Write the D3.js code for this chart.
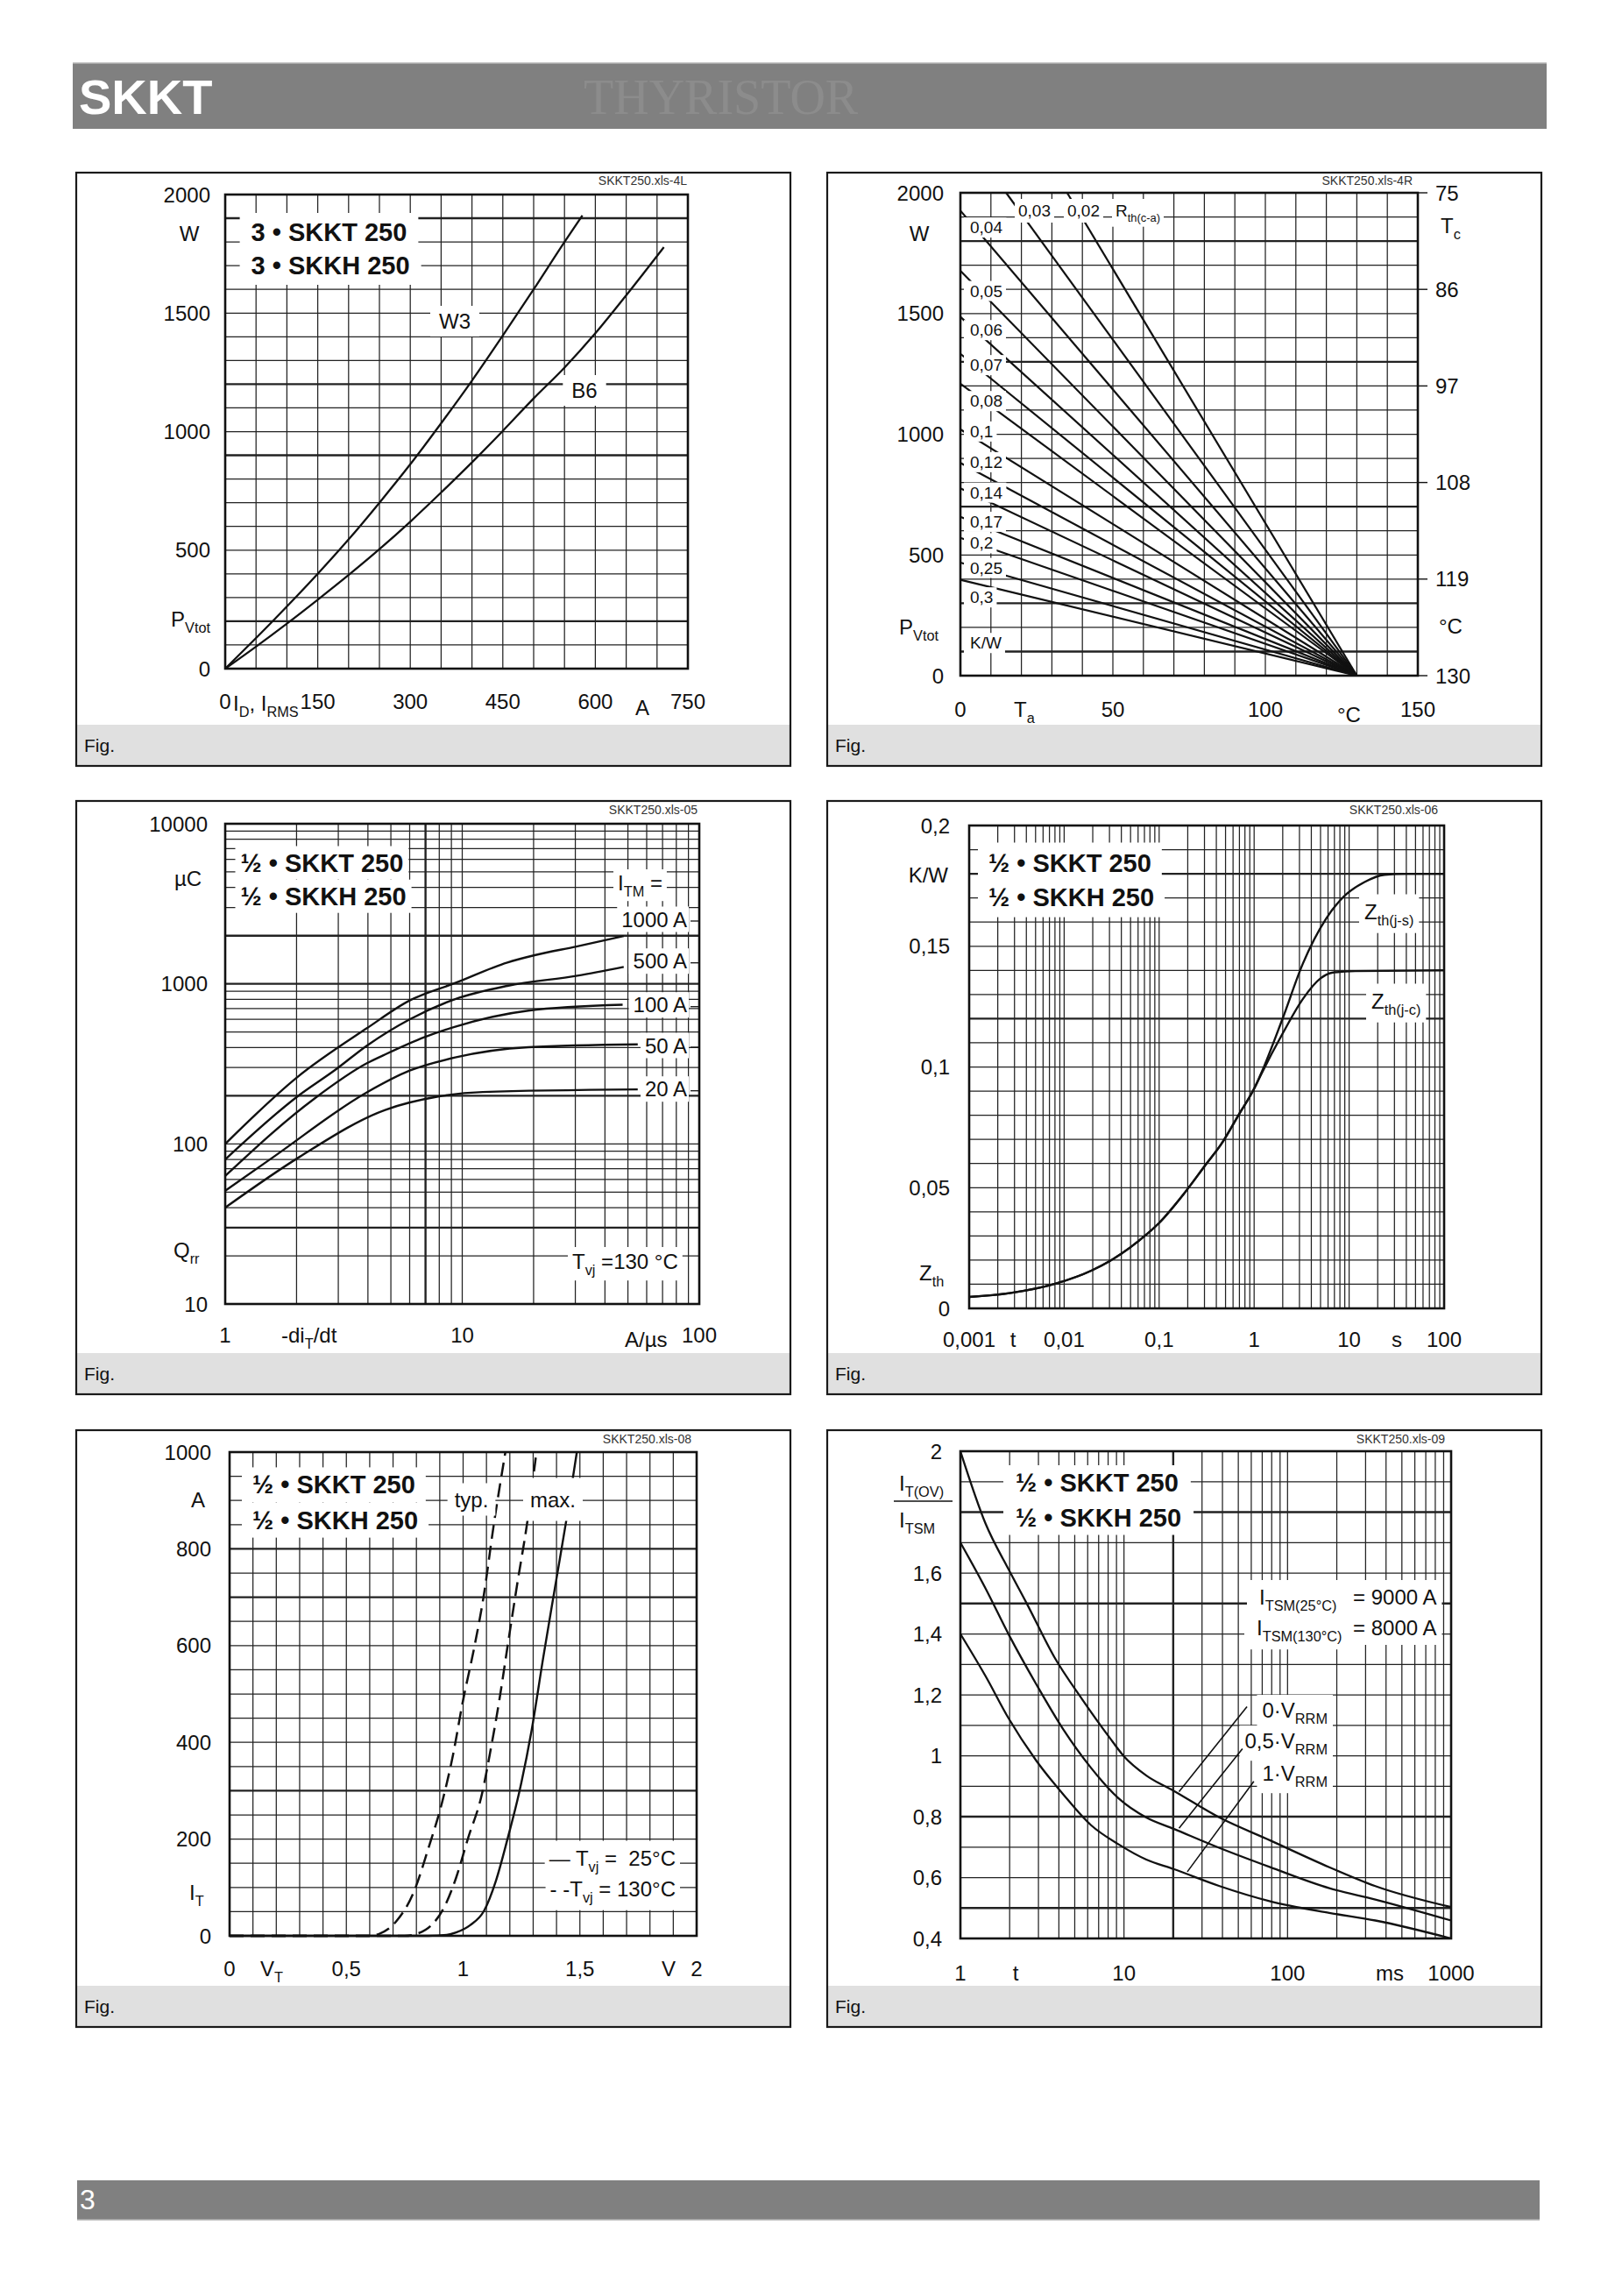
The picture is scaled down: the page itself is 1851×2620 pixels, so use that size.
<!DOCTYPE html>
<html><head><meta charset="utf-8">
<script src="https://cdn.jsdelivr.net/npm/d3@7"></script>
<style>
body{margin:0;background:#fff;}
svg text{font-family:"Liberation Sans",Arial,Helvetica,sans-serif;}
</style></head><body>
<script>
// ================= DATA =================
// Panel 1 : P_Vtot vs I_D, I_RMS
const p1XTicks = [0,150,300,450,600,750];
const p1YTicks = [0,500,1000,1500,2000];
const p1W3 = [[0,0],[75,195],[150,400],[200,545],[250,700],[300,862],[350,1035],[400,1215],[450,1405],[500,1600],[550,1800],[579,1912]];
const p1B6 = [[0,0],[50,93],[100,190],[150,291],[200,395],[250,504],[300,620],[350,743],[400,870],[450,1003],[500,1140],[550,1270],[600,1415],[650,1575],[711,1778]];

// Panel 2 : P_Vtot vs T_a, lines for R_th(c-a)
const p2XTicks = [0,50,100,150];
const p2YTicks = [0,500,1000,1500,2000];
const p2TcTicks = [75,86,97,108,119,130];
const p2Rth = ["0,02","0,03","0,04","0,05","0,06","0,07","0,08","0,1","0,12","0,14","0,17","0,2","0,25","0,3"];
const p2StartTa = [35,15,0,0,0,0,0,0,0,0,0,0,0,0];
const p2StartP = [2000,2000,1926,1677,1486,1333,1209,1020,881,776,658,571,468,397];
const p2End = [130,0];

// Panel 3 : Q_rr vs -di/dt
const p3XTicks = [1,10,100];
const p3YTicks = [10,100,1000,10000];
const p3Names = ["1000 A","500 A","100 A","50 A","20 A"];
const p3I1000 = [[1,100],[2,259],[3.96,528],[6,787],[9.34,1012],[15.5,1360],[20.2,1510],[30.6,1714],[48,1990]];
const p3I500 = [[1,80],[2,196],[2.94,293],[3.96,411],[6,600],[9.34,803],[15.5,971],[30.6,1125],[48,1276]];
const p3I100 = [[1,63],[2.39,193],[3.96,319],[4.73,362],[6.95,465],[9.34,540],[19,680],[47.5,740]];
const p3I50 = [[1,51],[1.6,83],[3.96,210],[6,287],[9.34,347],[19,402],[55,419]];
const p3I20 = [[1,40],[2.06,83],[4.73,163],[7.82,197],[12.2,211],[55,219]];

// Panel 4 : Z_th vs t
const p4XTicks = [0.001,0.01,0.1,1,10,100];
const p4YTicks = [0,0.05,0.1,0.15,0.2];
const p4Common = [[0.001,0.0047],[0.00266,0.0063],[0.00806,0.0102],[0.0195,0.0157],[0.0305,0.0197],[0.074,0.0307],[0.1,0.0354],[0.18,0.0472],[0.313,0.0598],[0.45,0.068],[0.684,0.080],[1.0,0.091]];
const p4JS = [[1.205,0.098],[1.98,0.1197],[3.25,0.1427],[5.72,0.1614],[8.74,0.1705],[14.4,0.1765],[23.6,0.1796],[40,0.18],[100,0.18]];
const p4JC = [[1.205,0.0975],[1.98,0.1136],[3.25,0.1281],[4.97,0.1366],[6.59,0.139],[11.6,0.1397],[100,0.14]];

// Panel 5 : I_T vs V_T
const p5XTicks = [0,0.5,1,1.5,2];
const p5YTicks = [0,200,400,600,800,1000];
const p5Typ130 = [[0,0],[0.6,0],[0.64,4],[0.712,29],[0.79,92],[0.85,179],[0.909,274],[0.958,377],[0.997,480],[1.048,597],[1.087,699],[1.131,849],[1.181,1000]];
const p5Max130 = [[0,0],[0.75,0],[0.80,4],[0.86,20],[0.92,60],[0.97,120],[1.02,200],[1.081,294],[1.118,385],[1.156,490],[1.193,607],[1.231,725],[1.275,856],[1.314,1000]];
const p5Max25 = [[0,0],[0.85,0],[0.93,2],[0.97,7],[1.03,22],[1.09,52],[1.14,113],[1.19,200],[1.24,296],[1.293,424],[1.343,575],[1.393,719],[1.443,862],[1.487,1000]];

// Panel 6 : I_T(OV)/I_TSM vs t
const p6XTicks = [1,10,100,1000];
const p6YTicks = [0.4,0.6,0.8,1,1.2,1.4,1.6,2];
const p6V0 = [[1,2.0],[1.426,1.762],[1.97,1.612],[2.55,1.499],[3.76,1.323],[5.54,1.186],[8.15,1.060],[10,0.998],[13.7,0.935],[20.1,0.885],[38.4,0.797],[78.3,0.722],[180,0.634],[344,0.572],[1000,0.503]];
const p6V05 = [[1,1.7],[1.426,1.549],[1.97,1.399],[2.9,1.236],[4.27,1.085],[6.29,0.960],[9.27,0.860],[13.7,0.797],[20.1,0.760],[38.4,0.697],[78.3,0.634],[180,0.565],[344,0.528],[1000,0.459]];
const p6V1 = [[1,1.4],[1.426,1.261],[1.97,1.123],[2.9,0.985],[4.27,0.872],[6.29,0.772],[9.27,0.709],[13.7,0.659],[20.1,0.628],[38.4,0.572],[78.3,0.522],[180,0.484],[344,0.459],[1000,0.40]];
const p6Leaders = [[[56.5,1.161],[21.7,0.882]],[[53,1.023],[21.7,0.762]],[[62.2,0.916],[24.4,0.619]]];

// ================= DRAWING =================
const INK = "#111";
const svg = d3.select("body").append("svg").attr("width",1851).attr("height",2620);
svg.append("rect").attr("width",1851).attr("height",2620).attr("fill","#fff");
const fmt = d => String(d).replace(".", ",");

// header
svg.append("rect").attr("x",83).attr("y",72).attr("width",1682).attr("height",75).attr("fill","#808080");
svg.append("line").attr("x1",83).attr("x2",1765).attr("y1",72).attr("y2",72).attr("stroke","#b5b5b5").attr("stroke-width",1.5);
svg.append("text").attr("x",90).attr("y",130).attr("fill","#fff").attr("font-size",56).attr("font-weight","bold").text("SKKT");
svg.append("text").attr("x",666).attr("y",130).attr("fill","#8c8c8c").attr("font-size",56)
  .style("font-family",'"Liberation Serif","Times New Roman",serif').text("THYRISTOR");
// footer
svg.append("rect").attr("x",88).attr("y",2488).attr("width",1669).attr("height",45).attr("fill","#808080");
svg.append("line").attr("x1",88).attr("x2",1757).attr("y1",2533).attr("y2",2533).attr("stroke","#b0b0b0").attr("stroke-width",1.5);
svg.append("text").attr("x",91).attr("y",2521).attr("fill","#fff").attr("font-size",32).text("3");

function rich(g, x, y, parts, o = {}) {
  const fs = o.size || 24;
  const t = g.append("text").attr("x", x).attr("y", y).attr("font-size", fs)
    .attr("text-anchor", o.anchor || "start").attr("fill", o.fill || INK);
  if (o.bold) t.attr("font-weight", "bold");
  let shift = 0;
  (Array.isArray(parts) ? parts : [parts]).forEach(p => {
    const sub = typeof p === "object";
    const s = sub ? p.s : p;
    const ts = t.append("tspan").text(s);
    const want = sub ? fs * 0.3 : 0;
    if (want !== shift) { ts.attr("dy", want - shift); shift = want; }
    if (sub) ts.attr("font-size", fs * 0.68);
  });
  return t;
}

function makePanel(px, py, h, code, codeRight, codeY) {
  const g = svg.append("g");
  const L = {
    grid: g.append("g"), curves: g.append("g"), boxes: g.append("g"),
    text: g.append("g"), over: g.append("g"), frame: g.append("g")
  };
  g.insert("rect", ":first-child").attr("x",px).attr("y",py+h-47).attr("width",815).attr("height",47).attr("fill","#e0e0e0");
  L.frame.append("rect").attr("x",px).attr("y",py).attr("width",815).attr("height",h)
    .attr("fill","none").attr("stroke","#1a1a1a").attr("stroke-width",2.2);
  L.text.append("text").attr("x",px+9).attr("y",py+h-16).attr("font-size",21).attr("fill",INK).text("Fig.");
  L.text.append("text").attr("x",codeRight).attr("y",codeY).attr("text-anchor","end")
    .attr("font-size",14).attr("fill","#333").text(code);
  L.label = (x, y, parts, o = {}, pad = [5, 2]) => {
    const t = rich(L.text, x, y, parts, o);
    const b = t.node().getBBox();
    const pl = pad[2] !== undefined ? pad[2] : pad[0];
    L.boxes.append("rect").attr("x", b.x - pl).attr("y", b.y - pad[1])
      .attr("width", b.width + pl + pad[0]).attr("height", b.height + 2 * pad[1]).attr("fill", "#fff");
    return t;
  };
  return L;
}

function grid(L, x, y, xv, yv, hx = [], hy = []) {
  const isH = (arr, d) => arr.some(v => Math.abs(v - d) <= 1e-6 * Math.abs(v) + 1e-12);
  const [x0, x1] = x.range(), [y0, y1] = y.range();
  L.grid.append("g").selectAll("line").data(xv).join("line")
    .attr("x1", d => x(d)).attr("x2", d => x(d)).attr("y1", y0).attr("y2", y1)
    .attr("stroke", "#222").attr("stroke-width", d => isH(hx, d) ? 2.4 : 1.25);
  L.grid.append("g").selectAll("line").data(yv).join("line")
    .attr("y1", d => y(d)).attr("y2", d => y(d)).attr("x1", x0).attr("x2", x1)
    .attr("stroke", "#222").attr("stroke-width", d => isH(hy, d) ? 2.4 : 1.25);
  L.frame.append("rect").attr("x", x0).attr("y", y1).attr("width", x1 - x0).attr("height", y0 - y1)
    .attr("fill", "none").attr("stroke", INK).attr("stroke-width", 2.6);
}

function yLabels(L, y, vals, xr, f = fmt) {
  L.text.append("g").selectAll("text").data(vals).join("text")
    .attr("x", xr).attr("y", d => y(d) + 8.5).attr("text-anchor", "end")
    .attr("font-size", 24).attr("fill", INK).text(f);
}
function xLabels(L, x, vals, yb, f = fmt) {
  L.text.append("g").selectAll("text").data(vals).join("text")
    .attr("x", d => x(d)).attr("y", yb).attr("text-anchor", "middle")
    .attr("font-size", 24).attr("fill", INK).text(f);
}
function curve(L, x, y, data, w = 2.3, dash = null) {
  const line = d3.line().x(d => x(d[0])).y(d => y(d[1])).curve(d3.curveMonotoneX);
  const p = L.curves.append("path").attr("d", line(data)).attr("fill", "none")
    .attr("stroke", INK).attr("stroke-width", w).attr("stroke-linejoin", "round");
  if (dash) p.attr("stroke-dasharray", dash);
  return p;
}

// ---------- Panel 1 ----------
{
  const L = makePanel(87, 197, 677, "SKKT250.xls-4L", 784, 211);
  const x = d3.scaleLinear([0, 750], [257, 785]);
  const y = d3.scaleLinear([0, 2000], [763, 222]);
  grid(L, x, y, d3.range(0, 751, 50), d3.range(0, 2001, 100), [], [1900, 1200, 900, 200]);
  curve(L, x, y, p1W3);
  curve(L, x, y, p1B6);
  yLabels(L, y, p1YTicks, 240);
  xLabels(L, x, p1XTicks, 809);
  rich(L.text, 216, 275, "W", { anchor: "middle" });
  rich(L.text, 195, 715, ["P", { s: "Vtot" }]);
  rich(L.text, 266, 811, ["I", { s: "D" }, ", I", { s: "RMS" }]);
  rich(L.text, 733, 816, "A", { anchor: "middle" });
  L.label(286.6, 275, "3 • SKKT 250", { size: 29, bold: true }, [13, 6]);
  L.label(286.6, 313, "3 • SKKH 250", { size: 29, bold: true }, [13, 6]);
  L.label(519, 375, "W3", { anchor: "middle" }, [10, 4]);
  L.label(667, 454, "B6", { anchor: "middle" }, [10, 4]);
}

// ---------- Panel 2 ----------
{
  const L = makePanel(944, 197, 677, "SKKT250.xls-4R", 1612, 211);
  const x = d3.scaleLinear([0, 150], [1096, 1618]);
  const y = d3.scaleLinear([0, 2000], [771, 220]);
  const yR = d3.scaleLinear([130, 75], [771, 220]);
  grid(L, x, y, d3.range(0, 151, 10), d3.range(0, 2001, 100), [], [1800, 1300, 700, 300, 100]);
  p2Rth.forEach((r, i) => {
    L.curves.append("line").attr("x1", x(p2StartTa[i])).attr("y1", y(p2StartP[i]))
      .attr("x2", x(p2End[0])).attr("y2", y(p2End[1])).attr("stroke", INK).attr("stroke-width", 2.2);
  });
  yLabels(L, y, p2YTicks, 1077);
  L.text.append("g").selectAll("line").data(p2TcTicks).join("line")
    .attr("x1", 1618).attr("x2", 1629).attr("y1", d => yR(d)).attr("y2", d => yR(d))
    .attr("stroke", INK).attr("stroke-width", 1.4);
  L.text.append("g").selectAll("text").data(p2TcTicks).join("text")
    .attr("x", 1638).attr("y", d => yR(d) + 8.5).attr("font-size", 24).attr("fill", INK).text(d => d);
  xLabels(L, x, p2XTicks, 818);
  rich(L.text, 1049, 275, "W", { anchor: "middle" });
  rich(L.text, 1026, 724, ["P", { s: "Vtot" }]);
  rich(L.text, 1644, 266, ["T", { s: "c" }]);
  rich(L.text, 1642, 723, "°C");
  rich(L.text, 1157, 818, ["T", { s: "a" }]);
  rich(L.text, 1526, 824, "°C");
  // R_th labels (layout positions in W)
  const labelAt = [null, null, 1857, 1594, 1432, 1287, 1138, 1012, 885, 759, 638, 549, 447, 325];
  p2Rth.forEach((r, i) => {
    if (labelAt[i] === null) return;
    L.label(1107, y(labelAt[i]) + 6.7, r, { size: 19 }, [4, 1, 7]);
  });
  L.label(1107, y(136) + 6.7, "K/W", { size: 19 }, [4, 1, 7]);
  // top labels
  [["0,03", 1162], ["0,02", 1218]].forEach(([t, xx]) => L.label(xx, 247, t, { size: 19 }, [4, 3]));
  L.label(1273, 247, ["R", { s: "th(c-a)" }], { size: 19 }, [4, 3]);
}

// ---------- Panel 3 ----------
{
  const L = makePanel(87, 914, 677, "SKKT250.xls-05", 796, 929);
  const x = d3.scaleLog([1, 100], [257, 798]);
  const y = d3.scaleLog([10, 10000], [1488, 940]);
  grid(L, x, y, x.ticks(), y.ticks(), [7], [2000, 1000, 200, 30]);
  [p3I1000, p3I500, p3I100, p3I50, p3I20].forEach(s => curve(L, x, y, s, 2.4));
  yLabels(L, y, p3YTicks, 237, d => d);
  xLabels(L, x, p3XTicks, 1532, d => d);
  rich(L.text, 214.5, 1011, "µC", { anchor: "middle" });
  rich(L.text, 198, 1435, ["Q", { s: "rr" }]);
  rich(L.text, 321, 1532, ["-di", { s: "T" }, "/dt"]);
  rich(L.text, 713, 1537, "A/µs");
  L.label(274.5, 994.5, "½ • SKKT 250", { size: 29, bold: true }, [6, 3]);
  L.label(274.5, 1032.7, "½ • SKKH 250", { size: 29, bold: true }, [6, 3]);
  L.label(705, 1016, ["I", { s: "TM" }, " ="], {}, [5, 2]);
  const labY = [1049, 1096.7, 1146.7, 1193, 1242.7];
  p3Names.forEach((n, i) => {
    L.label(784, labY[i] + 8.5, n, { anchor: "end" }, [2, 1, 5]);
    L.text.append("line").attr("x1", 788).attr("x2", 797).attr("y1", labY[i] + 2).attr("y2", labY[i] + 2)
      .attr("stroke", INK).attr("stroke-width", 1.3);
  });
  L.label(653, 1448, ["T", { s: "vj" }, " =130 °C"], {}, [5, 3]);
}

// ---------- Panel 4 ----------
{
  const L = makePanel(944, 914, 677, "SKKT250.xls-06", 1641, 929);
  const x = d3.scaleLog([0.001, 100], [1106, 1648]);
  const y = d3.scaleLinear([0, 0.2], [1493, 942]);
  grid(L, x, y, x.ticks(), d3.range(0, 21).map(i => i / 100), [], [0.18, 0.12]);
  curve(L, x, y, p4Common.concat(p4JS), 2.4);
  curve(L, x, y, p4Common.concat(p4JC), 2.4);
  yLabels(L, y, p4YTicks, 1084);
  xLabels(L, x, p4XTicks, 1537);
  rich(L.text, 1082, 1007, "K/W", { anchor: "end" });
  rich(L.text, 1049, 1461, ["Z", { s: "th" }]);
  rich(L.text, 1156, 1537, "t", { anchor: "middle" });
  rich(L.text, 1594, 1537, "s", { anchor: "middle" });
  L.label(1128, 994.5, "½ • SKKT 250", { size: 29, bold: true }, [12, 7]);
  L.label(1128, 1033.6, "½ • SKKH 250", { size: 29, bold: true }, [12, 7]);
  L.label(1557, 1048.5, ["Z", { s: "th(j-s)" }], {}, [6, 6]);
  L.label(1565, 1150.5, ["Z", { s: "th(j-c)" }], {}, [6, 6]);
}

// ---------- Panel 5 ----------
{
  const L = makePanel(87, 1632, 681, "SKKT250.xls-08", 789, 1646.5);
  const x = d3.scaleLinear([0, 2], [262, 795]);
  const y = d3.scaleLinear([0, 1000], [2209, 1657]);
  grid(L, x, y, d3.range(0, 21).map(i => i / 10), d3.range(0, 1001, 50), [], [800, 700, 300]);
  curve(L, x, y, p5Typ130, 2.5, "16,8");
  curve(L, x, y, p5Max130, 2.5, "16,8");
  curve(L, x, y, p5Max25, 2.4);
  yLabels(L, y, p5YTicks, 241);
  xLabels(L, x, p5XTicks, 2255);
  rich(L.text, 226, 1719.5, "A", { anchor: "middle" });
  rich(L.text, 216, 2167.5, ["I", { s: "T" }]);
  rich(L.text, 297, 2255, ["V", { s: "T" }]);
  rich(L.text, 763, 2255, "V", { anchor: "middle" });
  L.label(288, 1704.4, "½ • SKKT 250", { size: 29, bold: true }, [12, 4]);
  L.label(288, 1744.6, "½ • SKKH 250", { size: 29, bold: true }, [12, 4]);
  L.label(538, 1719.5, "typ.", { anchor: "middle" }, [8, 5]);
  L.label(631, 1719.5, "max.", { anchor: "middle" }, [8, 11]);
  L.label(771, 2128.5, ["— T", { s: "vj" }, " =\u00a0\u00a025°C"], { anchor: "end" }, [5, 6]);
  L.label(771, 2163.5, ["- -T", { s: "vj" }, " = 130°C"], { anchor: "end" }, [5, 6]);
}

// ---------- Panel 6 ----------
{
  const L = makePanel(944, 1632, 681, "SKKT250.xls-09", 1649, 1647);
  const x = d3.scaleLog([1, 1000], [1096, 1656]);
  const y = d3.scaleLinear([0.4, 2], [2212, 1656]);
  grid(L, x, y, x.ticks(), d3.range(4, 21).map(i => i / 10), [20], [1.8, 1.5, 0.8, 0.5]);
  [p6V0, p6V05, p6V1].forEach(s => curve(L, x, y, s, 2.3));
  yLabels(L, y, p6YTicks, 1075);
  xLabels(L, x, p6XTicks, 2259.5, d => d);
  rich(L.text, 1026, 1701, ["I", { s: "T(OV)" }]);
  L.text.append("line").attr("x1", 1020).attr("x2", 1087).attr("y1", 1713).attr("y2", 1713).attr("stroke", INK).attr("stroke-width", 1.4);
  rich(L.text, 1026, 1743, ["I", { s: "TSM" }]);
  rich(L.text, 1159, 2259.5, "t", { anchor: "middle" });
  rich(L.text, 1586, 2259.5, "ms", { anchor: "middle" });
  L.label(1159, 1702, "½ • SKKT 250", { size: 29, bold: true }, [14, 4]);
  L.label(1159, 1741.5, "½ • SKKH 250", { size: 29, bold: true }, [14, 4]);
  L.label(1437, 1831, ["I", { s: "TSM(25°C)" }], {}, [6, 6, 14]);
  L.label(1544, 1831, "= 9000 A", {}, [6, 6, 20]);
  L.label(1434, 1866, ["I", { s: "TSM(130°C)" }], {}, [6, 6, 14]);
  L.label(1544, 1866, "= 8000 A", {}, [6, 6, 20]);
  L.label(1515, 1960, ["0·V", { s: "RRM" }], { anchor: "end" }, [6, 4]);
  L.label(1515, 1995, ["0,5·V", { s: "RRM" }], { anchor: "end" }, [6, 4]);
  L.label(1515, 2032, ["1·V", { s: "RRM" }], { anchor: "end" }, [6, 4]);
  p6Leaders.forEach(([a, b]) => {
    L.over.append("line").attr("x1", x(a[0])).attr("y1", y(a[1])).attr("x2", x(b[0])).attr("y2", y(b[1]))
      .attr("stroke", INK).attr("stroke-width", 1.6);
  });
}
</script></body></html>
